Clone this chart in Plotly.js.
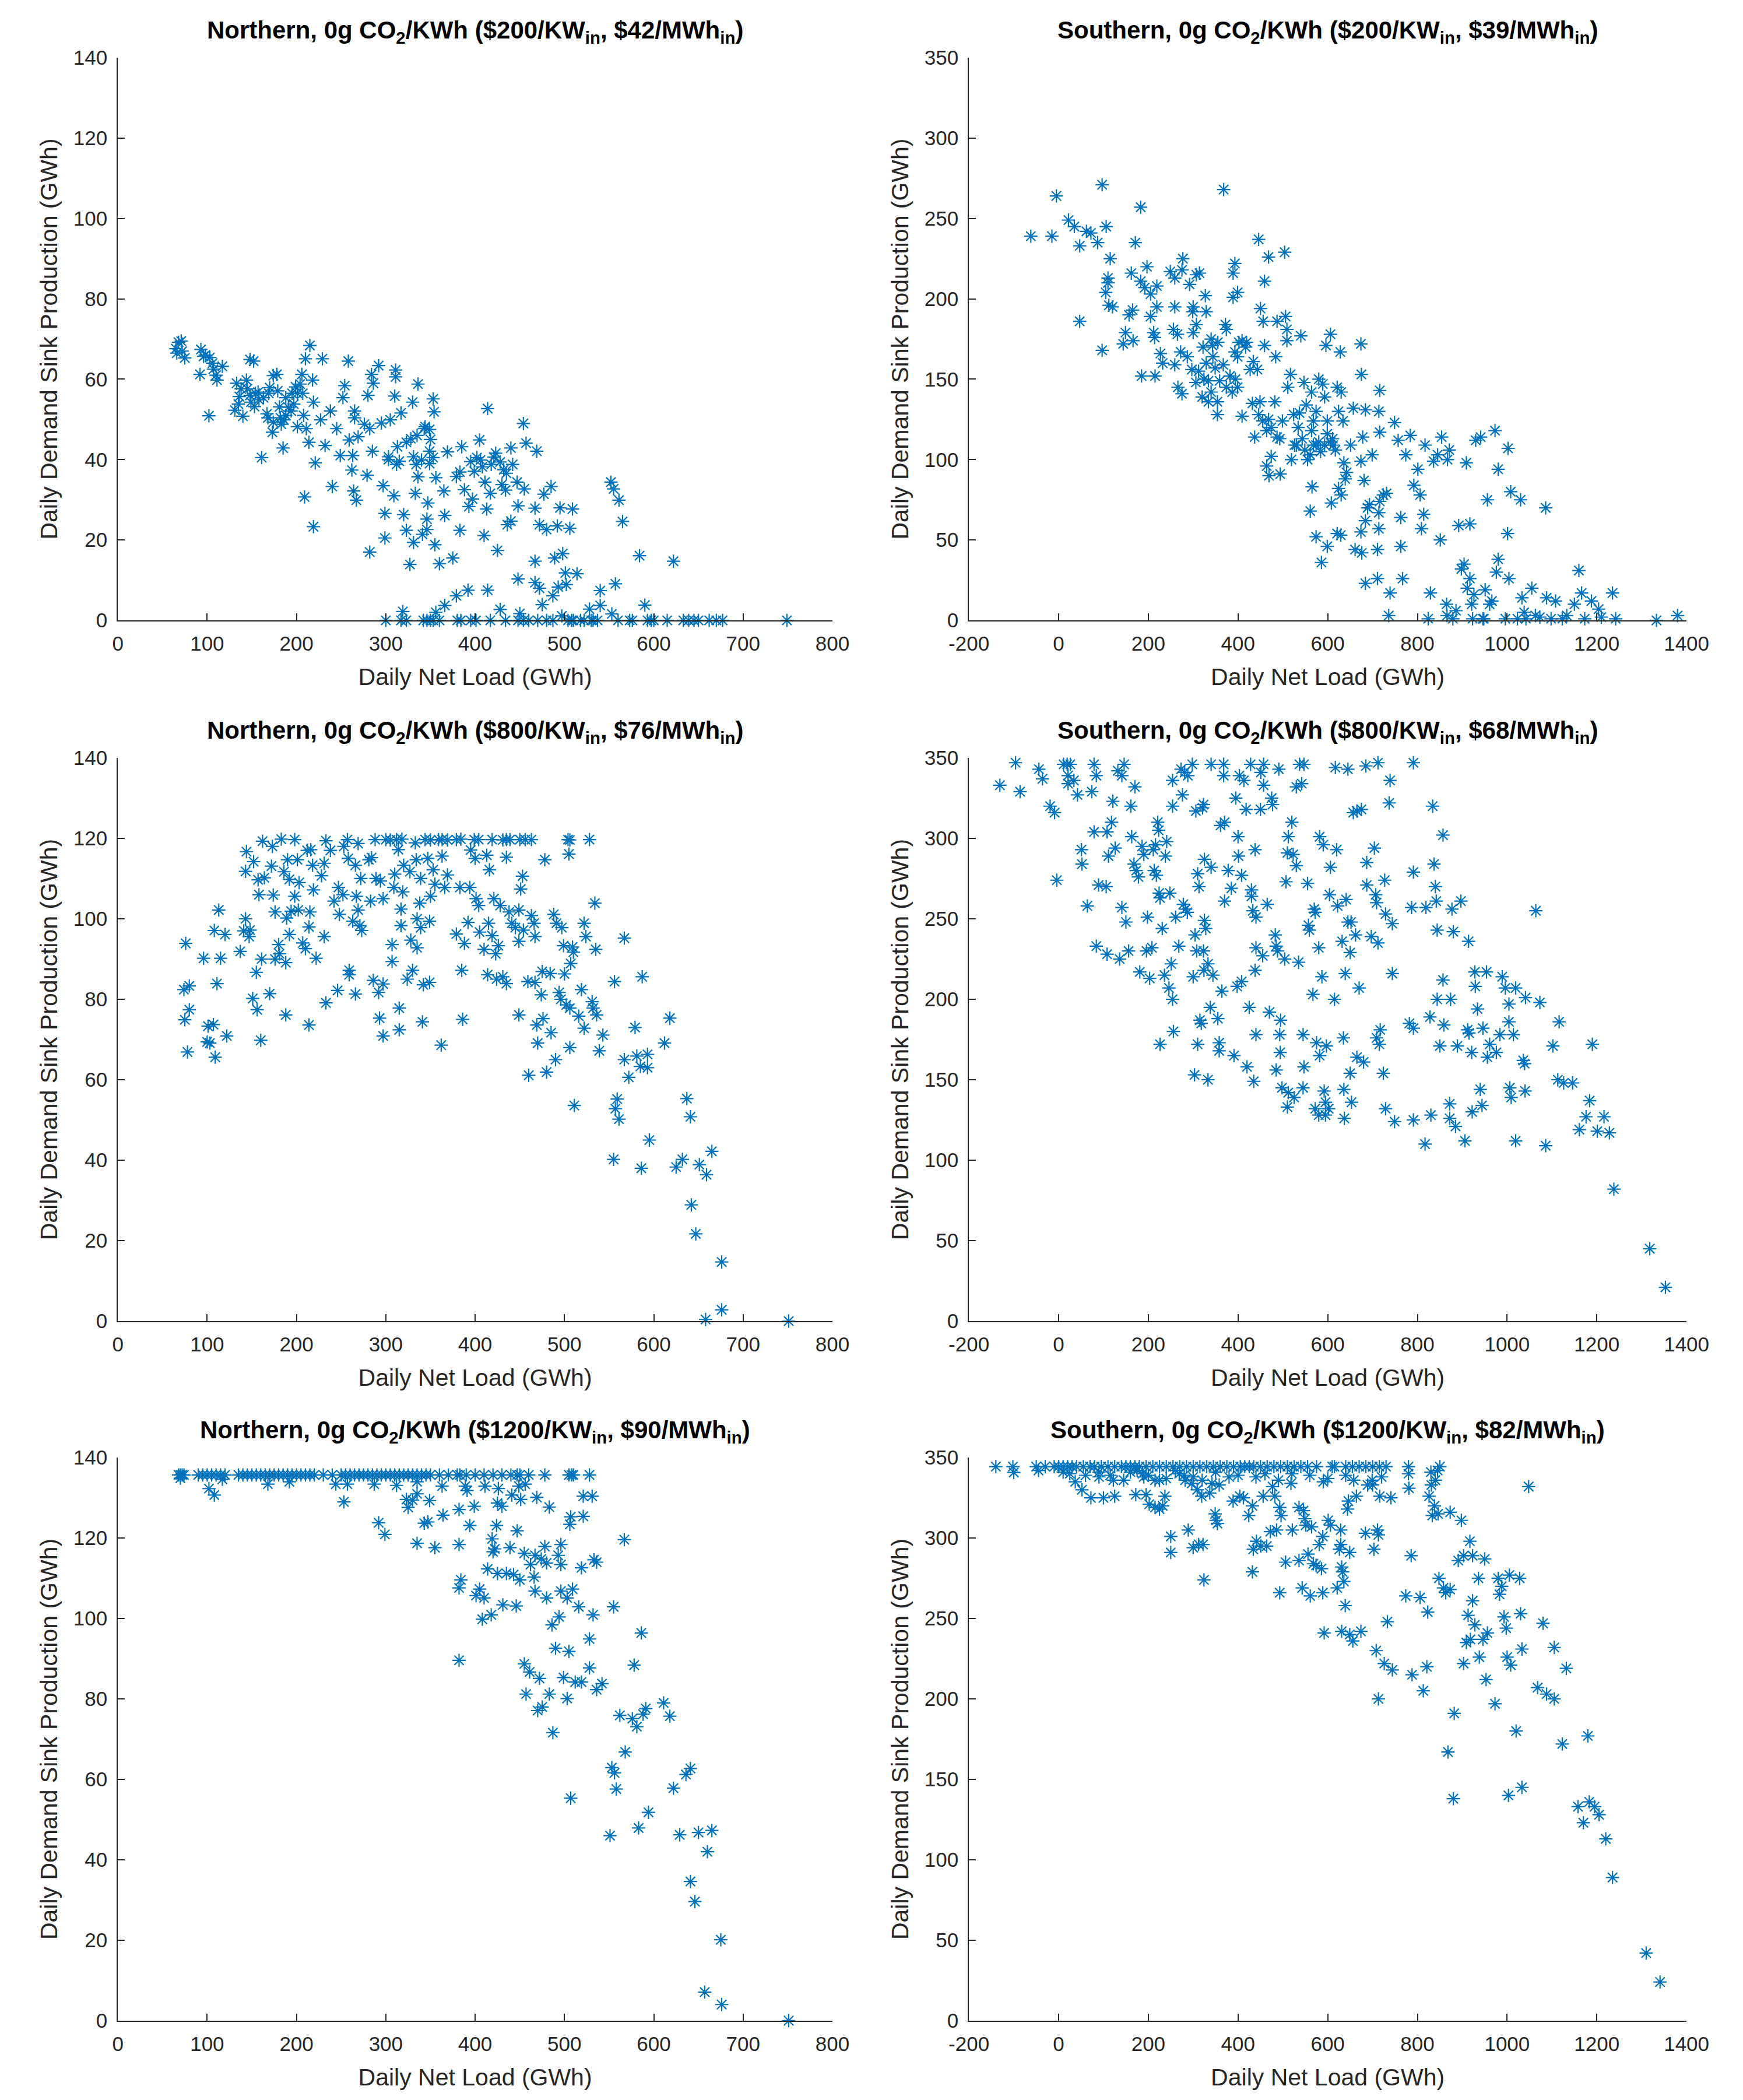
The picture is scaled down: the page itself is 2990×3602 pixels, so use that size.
<!DOCTYPE html>
<html>
<head>
<meta charset="utf-8">
<script src="https://cdn.plot.ly/plotly-3.0.1.min.js"></script>
<style>html,body{margin:0;padding:0;background:#fff;}</style>
</head>
<body>
<div id="chart"></div>
<script>
// ---- Panel titles and axis labels ----
const panelTitles = [
  '<b>Northern, 0g CO<sub>2</sub>/KWh ($200/KW<sub>in</sub>, $42/MWh<sub>in</sub>)</b>',
  '<b>Southern, 0g CO<sub>2</sub>/KWh ($200/KW<sub>in</sub>, $39/MWh<sub>in</sub>)</b>',
  '<b>Northern, 0g CO<sub>2</sub>/KWh ($800/KW<sub>in</sub>, $76/MWh<sub>in</sub>)</b>',
  '<b>Southern, 0g CO<sub>2</sub>/KWh ($800/KW<sub>in</sub>, $68/MWh<sub>in</sub>)</b>',
  '<b>Northern, 0g CO<sub>2</sub>/KWh ($1200/KW<sub>in</sub>, $90/MWh<sub>in</sub>)</b>',
  '<b>Southern, 0g CO<sub>2</sub>/KWh ($1200/KW<sub>in</sub>, $82/MWh<sub>in</sub>)</b>'
];
const xLabel = 'Daily Net Load (GWh)';
const yLabel = 'Daily Demand Sink Production (GWh)';
const northXTicks = [0, 100, 200, 300, 400, 500, 600, 700, 800];
const northYTicks = [0, 20, 40, 60, 80, 100, 120, 140];
const southXTicks = [-200, 0, 200, 400, 600, 800, 1000, 1200, 1400];
const southYTicks = [0, 50, 100, 150, 200, 250, 300, 350];

// ---- Data: [daily net load, daily demand sink production] ----
const north200 = [
[65,67.6],[68,69.2],[71,69.5],[66,66.5],[72,67],[75,65.3],[93,67.4],[96,65.7],[98,66],[103,65.4],[92,61.2],[102,50.9],[106,64],[107,62.5],[110,61],[111,59.8],[117,63.2],[133,59],[136,55.7],[131,52.3],[140,50.8],[144,59.8],[148,64.9],[152,64.5],[145,57.6],[149,54.3],[153,53.2],[157,56.8],[161,40.5],[167,51.4],[170,57.9],[174,60.9],[178,61.2],[173,46.8],[179,57.1],[181,53.1],[183,48.8],[186,49.9],[185,42.9],[188,55.4],[191,53],[195,56.5],[197,53.8],[199,58.1],[201,48.2],[206,61.2],[208,51],[211,47.7],[210,65.1],[209,30.7],[215,68.4],[214,44.3],[218,59.8],[219,54.3],[221,39.2],[219,23.3],[229,65.1],[227,49.9],[232,43.5],[238,52.1],[240,33.3],[245,47.7],[249,41],[252,55.4],[254,58.4],[258,64.5],[259,44.9],[262,37.4],[263,41],[265,52.1],[265,50.4],[267,29.9],[264,32.2],[269,45.7],[276,48.8],[279,36.1],[280,56],[284,61.2],[286,59],[285,42.1],[282,47.7],[282,17],[292,63.4],[295,49.1],[297,33.5],[299,26.6],[299,20.5],[303,40.7],[305,49.9],[309,31],[310,55.8],[311,62.3],[311,60.6],[313,43.2],[315,39.6],[317,51.6],[320,26.3],[323,22.4],[327,13.9],[330,54.3],[331,19.4],[333,31.6],[334,38.8],[336,58.8],[336,35.7],[341,21.4],[343,47.7],[346,25.2],[346,22.6],[347,29.2],[349,39],[353,55.1],[354,51.9],[356,35.5],[355,18.8],[360,14.1],[365,32.2],[366,26.1],[369,41.9],[375,15.5],[379,35.8],[383,36.9],[383,22.4],[385,43.2],[388,32.5],[393,28.3],[397,30.2],[399,37.1],[405,44.9],[406,39.9],[410,21.1],[411,34.4],[413,27.7],[414,52.7],[417,31.6],[421,40.6],[423,41.6],[425,17.4],[430,33.8],[434,32.4],[435,36.6],[436,23.8],[440,24.7],[440,42.9],[442,38.8],[447,34.4],[448,28.5],[454,49],[457,44.1],[455,32.7],[467,27.9],[467,14.7],[469,42.1],[472,23.8],[477,31.4],[480,22.6],[485,33.3],[489,15.5],[492,23.5],[495,28],[498,16.6],[501,11.8],[506,22.9],[509,27.7],[514,11.6],[552,34.4],[555,32.7],[561,29.9],[565,24.6],[584,16.1],[622,14.7],[557,9.1],[467,9.4],[472,8],[448,10.3],[392,7.5],[414,7.5],[379,6.1],[366,3.7],[356,2],[475,3.9],[487,6.1],[493,8.3],[502,8.9],[540,7.4],[540,3.7],[528,2.8],[590,3.8],[553,1.6],[319,2.2],[428,2.7],[450,1.7],[497,1.1],
[303,40],[312,38.8],[323,44.3],[328,45.2],[335,46],[344,48.2],[349,47.5],[350,45],[349,42.1],[353,40.5],[340,39.9],[331,40.7],
[154,56.5],[163,55.4],[168,50.4],[174,49.3],[182,50.4],[188,51],[194,52.1],[201,56.5],[204,58.8],[207,56.5],[138,57.6],[135,53.8],[148,56],[158,54.9],[169,56.5],
[395,39.5],[402,40.5],[408,38.2],[418,38.8],[428,39.4],[432,37.5],
[300,0],[317,0],[323,0],[342,0],[346,0],[350,0],[353,0],[380,0],[384,0],[401,0],[417,0],[434,0],[448,0],[454,0],[470,0],[487,0],[504,0],[508,0],[518,0],[522,0],[532,0],[537,0],[573,0],[576,0],[593,0],[597,0],[615,0],[633,0],[639,0],[645,0],[662,0],[677,0],[749,0],[360,0],[395,0],[460,0],[480,0],[510,0],[530,0],[560,0],[600,0],[650,0],[670,0]
];

const south200 = [
[-62,239],[-15,239],[-5,264],[22,249],[35,245],[47,233],[62,242],[72,241],[87,235],[97,271],[106,245],[115,225],[47,186],[97,168],[183,257],[171,235],[110,213],[110,210],[105,204],[112,196],[120,195],[162,216],[197,220],[183,211],[192,207],[205,203],[219,208],[157,190],[165,193],[205,189],[219,195],[149,179],[144,172],[166,174],[212,179],[214,176],[227,166],[185,152],[215,152],[232,160],[249,217],[259,213],[275,218],[277,225],[259,195],[256,181],[265,178],[272,167],[266,145],[275,141],[259,159],[287,164],[292,209],[307,215],[314,216],[300,195],[299,192],[329,192],[327,202],[300,179],[307,184],[297,156],[306,148],[320,139],[322,170],[329,160],[334,149],[340,142],[344,164],[349,157],[354,136],[354,128],[359,149],[367,159],[374,181],[372,184],[368,268],[393,222],[389,216],[389,201],[399,204],[393,167],[402,173],[399,164],[409,174],[419,173],[427,156],[394,150],[399,145],[409,127],[432,135],[437,114],[446,237],[450,194],[456,186],[459,211],[468,226],[459,171],[484,164],[487,186],[504,229],[506,189],[509,181],[509,174],[540,177],[446,128],[455,124],[464,118],[482,136],[487,114],[474,102],[464,96],[469,90],[494,91],[499,124],[511,145],[517,153],[524,128],[526,109],[519,100],[534,120],[547,148],[552,134],[555,100],[564,142],[568,124],[565,83],[561,68],[574,52],[586,36],[574,109],[584,105],[593,109],[599,116],[606,111],[612,109],[589,147],[596,171],[606,178],[621,145],[628,167],[630,142],[624,130],[634,124],[639,88],[630,78],[608,73],[599,46],[621,54],[629,53],[636,98],[642,92],[651,109],[657,132],[674,172],[675,153],[678,114],[674,99],[681,87],[684,131],[661,44],[676,42],[674,55],[684,62],[689,70],[693,72],[684,23],[699,103],[711,44],[711,26],[714,57],[714,67],[716,74],[716,117],[714,130],[716,143],[724,78],[731,79],[736,3],[739,17],[749,123],[757,112],[763,46],[763,64],[767,26],[774,103],[784,115],[792,84],[801,94],[806,78],[809,57],[814,66],[817,109],[824,1],[829,17],[836,99],[845,103],[851,50],[854,114],[867,100],[871,106],[865,10],[866,3],[879,1],[886,6],[892,59],[898,32],[904,35],[909,98],[911,20],[917,26],[917,60],[921,10],[926,16],[930,112],[941,114],[946,1],[951,19],[956,75],[961,10],[966,12],[973,118],[976,30],[980,38],[980,94],[996,1],[1001,54],[1002,107],[1004,26],[1008,80],[1023,1],[1030,75],[1033,14],[1038,5],[1055,20],[1063,3],[1073,2],[1086,70],[1088,14],[1098,1],[1108,12],[1133,3],[1150,10],[1160,31],[1166,17],[1173,1],[1188,12],[1204,7],[1210,2],[1235,17],[1242,1],[1333,0],[1380,3],[923,1],[948,1],[1042,1],[1123,1],
[312,155],[324,150],[340,175],[343,171],[355,173],[334,136],[374,145],[382,152],[387,142],[417,170],[434,161],[443,156],[449,136],[468,125],[474,120],[493,113],[530,109],[537,129],[543,113],[549,106],[561,103],[568,109],[580,111],[611,113],[617,106],[599,124],[574,130],[564,118],[580,150],[593,139],[624,82]
];

const north800 = [
[76,93.9],[74,82.4],[80,83.3],[75,74.9],[80,77.4],[78,66.9],[96,90.2],[101,73.3],[107,73.7],[100,69.4],[103,69.1],[109,65.6],[108,97.1],[113,102.2],[115,90.2],[111,83.9],[120,96.1],[122,70.9],[137,91.9],[141,97],[143,100],[143,111.8],[144,116.7],[147,95.6],[148,97.2],[151,80.2],[152,114.2],[155,86.7],[156,77.4],[157,109.7],[158,106],[160,69.8],[161,90],[162,119.3],[164,110.2],[170,81.4],[172,113.1],[173,118],[174,105.9],[176,101.7],[176,90],[180,93.6],[181,91.3],[183,119.8],[186,111.7],[188,89.1],[188,76.1],[189,100.2],[190,114.7],[192,109.8],[192,96.1],[194,101.9],[198,119.7],[198,105.6],[201,114.7],[202,102.2],[203,109],[207,94],[210,92.6],[212,117],[214,98],[214,73.6],[215,101.7],[216,117.2],[218,113.3],[219,107.2],[222,90.2],[228,110.7],[231,95.6],[231,113.8],[233,119.4],[233,79.1],[238,117],[242,104.4],[246,82.2],[247,107.8],[248,101.1],[252,106],[253,118],[257,119.7],[258,115],[259,86.1],[259,87.2],[263,99.4],[266,81.3],[266,113.3],[267,105.6],[269,118.7],[271,98.3],[273,97.1],[269,102.2],[272,110],[281,114.7],[283,104.4],[284,115.2],[286,84.7],[288,119.7],[289,110],[292,81.7],[293,75.3],[294,109.4],[297,105],[297,83.8],[297,70.9],[300,119.7],[307,89.4],[307,93.6],[309,107.8],[310,111.1],[312,119.7],[314,117.2],[315,77.8],[315,72.4],[317,98.3],[317,102.4],[319,106.7],[320,113.3],[324,85],[327,111.7],[328,94.7],[330,87.2],[333,118.9],[334,114.7],[335,92.8],[335,100],[338,103.9],[339,110],[339,97.8],[341,74.4],[342,83.6],[344,119.7],[347,115],[349,84.2],[349,99.4],[350,105.6],[353,112.2],[355,108.6],[359,119.7],[363,115.6],[362,68.6],[366,107.8],[369,110.9],[379,119.7],[379,96.2],[383,107.8],[385,87.2],[386,75],[388,93.9],[392,99.1],[394,107.8],[395,117.1],[399,119.7],[400,115],[401,105],[404,103.3],[405,96.7],[410,92.4],[413,115.8],[414,86.1],[415,98.9],[416,112.2],[419,119.7],[419,95.8],[421,105],[423,91.3],[424,85],[426,93.3],[428,103.3],[431,85.6],[435,119.7],[435,115.3],[435,83.9],[438,101.7],[441,98.9],[445,97.8],[449,94.4],[449,102.2],[449,76.1],[451,107.4],[453,110.6],[454,97.2],[456,119.7],[459,84.4],[460,61.1],[463,100.8],[463,119.7],[466,98.9],[467,95.6],[467,84.2],[469,73.6],[470,69.1],[474,81.1],[475,86.9],[476,75.2],[478,114.7],[480,61.9],[484,86.4],[485,71.7],[488,101.1],[490,65],[491,98.9],[494,81.7],[496,80],[497,97.8],[499,93.3],[500,86.3],[502,78.6],[504,119.7],[505,116.1],[506,77.8],[506,68],[507,88.9],[509,93],[510,91.7],[511,53.6],[516,75.8],[519,82.4],[522,72.8],[522,98.9],[524,95.6],[528,119.7],[531,79.4],[532,77.8],[534,103.9],[535,92.4],[536,76.1],[539,67.2],[543,71.1],[555,40.2],[556,84.4],[557,52.8],[559,55.2],[561,50.2],[567,65],[567,95.2],[572,60.6],[579,73],[581,65.9],[585,63.3],[586,38],[587,85.6],[593,66.3],[593,63],[595,45],[612,69.1],[618,75.3],[625,38.3],[632,40.2],[637,55.3],[641,50.8],[642,28.9],[647,21.7],[651,38.9],[659,36.4],[658,0.4],[665,42.2],[676,14.7],[676,2.8],[751,0],
[305,119.6],[318,119.8],[350,119.6],[363,119.7],[369,119.6],[384,119.8],[404,119.7],[431,119.6],[439,119.7],[450,119.7],[506,119.6]
];

const south800 = [
[-131,333],[-96,347],[-86,329],[-44,343],[-36,337],[-19,320],[-9,316],[-4,274],[11,346],[19,346],[26,346],[21,339],[21,334],[34,336],[42,327],[51,293],[52,284],[64,258],[74,329],[79,346],[84,339],[79,304],[89,271],[84,233],[106,270],[108,228],[108,304],[111,289],[118,310],[121,323],[126,294],[132,342],[141,339],[146,346],[141,257],[136,225],[150,248],[156,230],[161,320],[163,301],[170,332],[168,284],[173,280],[178,276],[181,217],[186,295],[190,290],[196,230],[198,251],[203,213],[208,232],[211,293],[213,280],[218,277],[216,296],[221,310],[223,305],[224,266],[226,263],[226,172],[231,244],[236,215],[238,289],[241,298],[246,207],[248,266],[251,222],[254,200],[254,320],[256,180],[254,336],[261,251],[268,233],[273,343],[276,327],[278,259],[281,341],[283,256],[287,254],[288,339],[298,346],[300,214],[303,153],[304,240],[306,317],[308,230],[310,278],[310,172],[313,270],[315,187],[318,185],[321,319],[323,321],[323,230],[324,218],[325,287],[325,249],[328,244],[333,150],[333,222],[338,195],[340,282],[340,346],[344,215],[355,188],[358,168],[358,173],[361,308],[364,205],[368,346],[368,339],[370,310],[370,261],[378,280],[385,269],[391,165],[395,325],[398,208],[400,301],[401,289],[403,339],[408,277],[408,211],[413,336],[418,318],[420,158],[425,195],[428,346],[430,268],[430,264],[433,255],[435,149],[438,293],[440,251],[440,232],[438,218],[440,178],[450,318],[451,341],[457,333],[457,346],[455,227],[465,259],[470,192],[475,325],[477,321],[483,240],[485,233],[488,230],[485,156],[493,178],[494,167],[495,187],[491,343],[498,145],[504,225],[507,273],[510,291],[512,301],[512,142],[510,133],[520,310],[523,290],[525,139],[530,332],[530,283],[535,223],[537,346],[542,334],[545,145],[547,158],[545,178],[547,346],[555,272],[557,246],[559,243],[567,203],[570,256],[572,254],[572,132],[575,173],[580,128],[580,232],[582,301],[582,165],[587,214],[590,296],[592,143],[595,136],[595,128],[597,171],[602,132],[604,265],[606,282],[615,200],[617,344],[620,293],[622,258],[632,236],[635,176],[636,144],[637,126],[639,216],[641,262],[645,248],[645,343],[650,229],[650,154],[652,248],[653,136],[657,316],[662,240],[665,164],[665,317],[670,207],[675,318],[680,161],[685,345],[687,285],[687,271],[697,239],[704,294],[707,265],[709,260],[712,235],[709,176],[715,172],[717,181],[712,347],[724,154],[727,274],[729,132],[729,253],[737,322],[739,336],[744,247],[744,216],[749,124],[782,185],[787,257],[791,347],[791,279],[791,182],[791,125],[817,110],[819,257],[828,189],[830,128],[834,320],[837,284],[840,270],[842,261],[844,243],[844,200],[850,171],[857,302],[857,212],[859,184],[872,135],[872,126],[874,200],[877,256],[880,242],[885,121],[889,171],[897,261],[906,112],[912,181],[914,236],[915,179],[921,167],[922,130],[928,217],[929,208],[934,194],[940,144],[944,134],[946,182],[954,217],[956,164],[961,172],[976,167],[984,178],[989,214],[996,207],[1004,197],[1004,186],[1006,145],[1009,139],[1014,178],[1019,207],[1019,112],[1036,162],[1039,160],[1041,201],[1040,143],[1064,255],[1073,198],[1086,109],[1102,171],[1113,150],[1116,186],[1126,148],[1146,148],[1161,119],[1176,127],[1184,137],[1190,172],[1201,118],[1216,127],[1228,117],[1238,82],[1318,45],[1353,21]
];

const north1200 = [
[68,135.7],[70,135.7],[72,135.7],[74,135.7],[90,135.7],[95,135.7],[100,135.7],[105,135.7],[110,135.7],[115,135.7],[120,135.7],[135,135.7],[140,135.7],[145,135.7],[150,135.7],[155,135.7],[160,135.7],[165,135.7],[170,135.7],[175,135.7],[180,135.7],[185,135.7],[190,135.7],[195,135.7],[200,135.7],[205,135.7],[210,135.7],[215,135.7],[220,135.7],[230,135.7],[240,135.7],[250,135.7],[255,135.7],[260,135.7],[265,135.7],[270,135.7],[275,135.7],[280,135.7],[285,135.7],[290,135.7],[295,135.7],[300,135.7],[305,135.7],[310,135.7],[315,135.7],[320,135.7],[325,135.7],[330,135.7],[335,135.7],[340,135.7],[345,135.7],[350,135.7],[360,135.7],[370,135.7],[380,135.7],[383,135.7],[390,135.7],[400,135.7],[410,135.7],[420,135.7],[430,135.7],[440,135.7],[447,135.7],[450,135.7],[460,135.7],[478,135.7],[505,135.7],[508,135.7],[510,135.7],[528,135.7],
[70,134.9],[102,132.3],[108,130.7],[117,134.6],[168,133.4],[192,134],[244,133.4],[253,129],[257,133.4],[287,133.4],[292,123.8],[299,120.9],[312,133.1],[323,129.6],[325,127.6],[330,129.4],[335,131],[335,118.7],[335,134],[343,123.7],[347,124],[349,129.3],[355,117.6],[363,132.9],[364,125.7],[382,127.1],[382,118.4],[382,107.6],[384,109.6],[382,89.6],[389,132.9],[391,131.8],[394,123.1],[399,127.9],[401,105.7],[405,107.3],[408,99.8],[410,105.1],[411,132.9],[414,112.3],[418,100.9],[419,119.8],[420,116.6],[422,117.3],[424,123.1],[425,111.2],[425,128.7],[426,132.3],[430,127.9],[431,103.4],[435,111.2],[439,117.6],[441,130.7],[443,110.9],[446,103.1],[447,121.8],[449,132.9],[450,109.6],[451,129.6],[455,116.2],[456,133.4],[455,88.7],[457,81.2],[461,86.7],[462,113.4],[466,110.3],[467,106.8],[467,115.7],[469,130.1],[470,77.1],[472,85.1],[474,114.8],[475,78],[478,117.9],[480,105.1],[480,113.8],[483,81.2],[483,127.7],[486,98.4],[487,71.6],[490,92.6],[493,115.7],[494,100.4],[496,118.4],[496,106.8],[496,113.4],[499,85.3],[503,105.1],[503,80.1],[505,91.8],[506,123.4],[507,125.3],[507,55.3],[509,107.3],[512,84.2],[516,102.9],[519,84.2],[519,112.6],[521,130.4],[521,125.4],[528,94.9],[528,87.7],[531,130.4],[532,100.9],[533,114.6],[536,114],[536,82.3],[542,83.8],[551,46],[553,62.9],[555,102.9],[556,61.6],[558,57.6],[562,75.9],[567,119.6],[568,66.8],[576,75.1],[578,88.4],[581,73.1],[583,47.9],[586,96.4],[588,76.2],[591,77.6],[594,51.8],[611,79],[618,75.7],[622,57.8],[629,46.2],[636,61.2],[641,62.7],[641,34.6],[646,29.6],[650,46.8],[657,7.1],[660,42],[665,47.3],[675,20.1],[676,4],[751,0]
];

const south1200 = [
[-140,344.4],[-102,344.4],[-50,344.4],[-30,344.4],[-10,344.4],[0,344.4],[10,344.4],[20,344.4],[30,344.4],[40,344.4],[55,344.4],[70,344.4],[80,344.4],[95,344.4],[110,344.4],[125,344.4],[140,344.4],[150,344.4],[160,344.4],[170,344.4],[180,344.4],[195,344.4],[210,344.4],[225,344.4],[240,344.4],[255,344.4],[270,344.4],[285,344.4],[300,344.4],[315,344.4],[330,344.4],[345,344.4],[360,344.4],[375,344.4],[390,344.4],[405,344.4],[415,344.4],[425,344.4],[435,344.4],[450,344.4],[465,344.4],[480,344.4],[495,344.4],[510,344.4],[525,344.4],[540,344.4],[555,344.4],[575,344.4],[610,344.4],[615,344.4],[640,344.4],[655,344.4],[670,344.4],[685,344.4],[700,344.4],[715,344.4],[730,344.4],[780,344.4],[850,344.4],
[-100,340.8],[-45,342],[10,341],[25,340],[60,339],[90,341],[115,339],[160,341],[190,338],[215,336],[240,337],[260,342],[280,339],[300,338],[320,336],[350,341],[380,338],[400,339],[440,338],[460,340],[490,336],[520,340],[560,339],[590,335],[600,337],[640,339],[700,333],[720,338],[780,340],[830,341],[840,336],[845,342],
[37,335],[52,330],[72,325],[100,325],[90,338],[125,326],[122,336],[145,336],[172,327],[195,327],[202,321],[215,319],[225,318],[232,320],[237,326],[225,336],[200,339],[187,340],[175,342],[250,301],[250,291],[289,305],[300,294],[312,296],[322,296],[324,274],[319,326],[309,330],[297,334],[282,336],[269,340],[337,328],[342,334],[349,315],[351,311],[354,309],[358,333],[389,323],[404,326],[412,325],[424,314],[432,320],[434,293],[432,279],[441,298],[451,295],[456,326],[464,295],[472,304],[477,332],[482,326],[486,305],[493,266],[493,319],[496,314],[506,285],[518,334],[521,305],[536,319],[536,286],[543,269],[546,317],[549,312],[551,308],[556,290],[561,264],[564,307],[568,284],[574,283],[581,296],[586,281],[589,301],[589,266],[592,241],[601,311],[606,308],[621,269],[626,293],[629,296],[629,305],[631,282],[633,279],[636,273],[631,242],[639,258],[644,318],[646,323],[649,291],[649,240],[656,236],[658,336],[664,326],[674,242],[684,303],[689,333],[699,336],[703,293],[708,230],[711,305],[713,302],[716,326],[713,200],[726,222],[733,248],[741,325],[744,218],[774,264],[781,331],[786,289],[788,215],[806,263],[813,205],[821,220],[823,254],[826,326],[831,333],[833,314],[838,320],[846,315],[848,275],[858,269],[863,266],[868,167],[873,268],[873,316],[880,138],[882,191],[891,286],[898,311],[903,289],[903,222],[909,235],[913,252],[917,298],[918,237],[923,289],[923,261],[928,246],[936,275],[938,226],[946,237],[950,287],[953,212],[956,241],[973,197],[980,275],[983,265],[988,270],[993,251],[998,244],[1000,226],[1003,140],[1005,277],[1008,221],[1020,180],[1028,275],[1030,253],[1033,231],[1033,145],[1048,332],[1068,207],[1080,247],[1088,203],[1105,200],[1105,232],[1123,172],[1132,219],[1158,133],[1170,123],[1180,177],[1183,136],[1195,133],[1205,128],[1220,113],[1235,89],[1310,42],[1341,24]
];

// ---- Build the figure ----
const panels = [north200, south200, north800, south800, north1200, south1200];
const blue = '#0072BD';
const traces = panels.map((pts, i) => ({
  type: 'scatter',
  mode: 'markers',
  x: pts.map(p => p[0]),
  y: pts.map(p => p[1]),
  xaxis: i === 0 ? 'x' : 'x' + (i + 1),
  yaxis: i === 0 ? 'y' : 'y' + (i + 1),
  cliponaxis: false,
  hoverinfo: 'x+y',
  marker: { symbol: 'asterisk-open', size: 19, color: blue, line: { color: blue, width: 2.2 } }
}));

const colDomains = [[0.0676, 0.4776], [0.5559, 0.9676]];
const rowDomains = [[0.7046, 0.9725], [0.3709, 0.6391], [0.0378, 0.3059]];
const axisColor = '#262626';
const fam = 'Liberation Sans, Arial, Helvetica, sans-serif';
const tickFont = { family: fam, size: 35, color: axisColor };
const labelFont = { family: fam, size: 41, color: axisColor };

const layout = {
  width: 2990,
  height: 3602,
  margin: { l: 0, r: 0, t: 0, b: 0 },
  paper_bgcolor: '#ffffff',
  plot_bgcolor: '#ffffff',
  showlegend: false,
  font: { family: fam, size: 35, color: axisColor },
  annotations: []
};

for (let i = 0; i < 6; i++) {
  const col = i % 2;
  const row = Math.floor(i / 2);
  const south = col === 1;
  const xs = i === 0 ? '' : String(i + 1);
  const xTicks = south ? southXTicks : northXTicks;
  const yTicks = south ? southYTicks : northYTicks;
  layout['xaxis' + xs] = {
    domain: colDomains[col],
    anchor: 'y' + xs,
    range: [xTicks[0], xTicks[xTicks.length - 1]],
    tickvals: xTicks,
    ticktext: xTicks.map(String),
    showgrid: false, zeroline: false,
    showline: true, linecolor: axisColor, linewidth: 2,
    ticks: 'inside', ticklen: 12, tickwidth: 2, tickcolor: axisColor,
    tickfont: tickFont,
    ticklabelstandoff: 8,
    title: { text: xLabel, font: labelFont, standoff: 24 }
  };
  layout['yaxis' + xs] = {
    domain: rowDomains[row],
    anchor: 'x' + xs,
    range: [yTicks[0], yTicks[yTicks.length - 1]],
    tickvals: yTicks,
    ticktext: yTicks.map(String),
    showgrid: false, zeroline: false,
    showline: true, linecolor: axisColor, linewidth: 2,
    ticks: 'inside', ticklen: 12, tickwidth: 2, tickcolor: axisColor,
    tickfont: tickFont,
    ticklabelstandoff: 9,
    title: { text: yLabel, font: labelFont, standoff: 14 }
  };
  layout.annotations.push({
    text: panelTitles[i],
    xref: 'paper', yref: 'paper',
    x: (colDomains[col][0] + colDomains[col][1]) / 2,
    y: rowDomains[row][1] + 0.0123,
    xanchor: 'center', yanchor: 'middle',
    showarrow: false,
    font: { family: fam, size: 42, color: '#000000' }
  });
}

Plotly.newPlot('chart', traces, layout, { displayModeBar: false });
</script>
</body>
</html>
